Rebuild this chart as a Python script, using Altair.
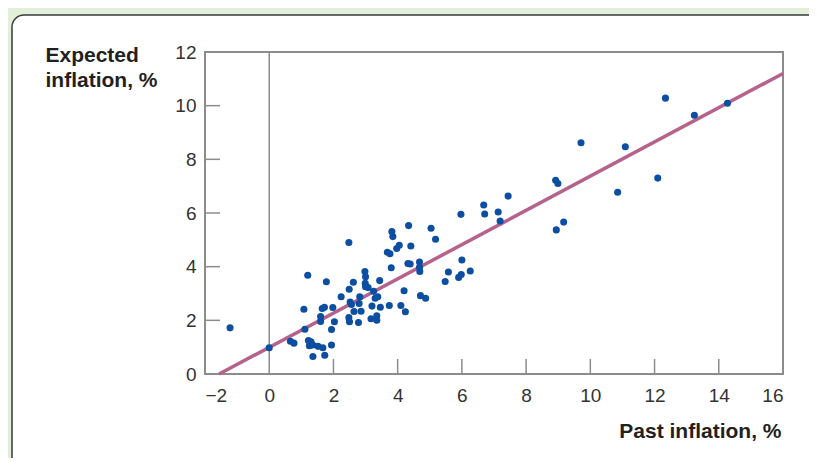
import altair as alt
import pandas as pd

# Scatter data
past = [-1.22, 0.0, 0.66, 0.77, 1.08, 1.11, 1.2, 1.22, 1.3, 1.25, 1.36, 1.36, 1.52, 1.6, 1.6,
        1.65, 1.72, 1.67, 1.73, 1.78, 1.94, 1.94, 1.98, 2.03, 2.24, 2.48, 2.48, 2.5, 2.49, 2.52,
        2.56, 2.62, 2.64, 2.78, 2.82, 2.8, 2.86, 2.98, 3.0, 2.99, 3.0, 3.08, 3.17, 3.2, 3.25,
        3.3, 3.35, 3.35, 3.38, 3.44, 3.46, 3.68, 3.76, 3.74, 3.82, 3.85, 3.8, 3.97, 4.05, 4.1,
        4.2, 4.24, 4.34, 4.32, 4.39, 4.41, 4.68, 4.68, 4.69, 4.71, 4.87, 5.04, 5.18, 5.48, 5.58,
        5.9, 5.98, 6.0, 5.97, 6.26, 6.68, 6.71, 7.13, 7.19, 7.44, 8.92, 8.99, 8.94, 9.17, 9.71,
        10.85, 11.09, 12.1, 12.34, 13.24, 14.27]
expected = [1.72, 0.98, 1.22, 1.15, 2.41, 1.67, 3.68, 1.25, 1.2, 1.05, 0.65, 1.08, 1.03, 2.14, 1.96,
            2.44, 2.49, 0.98, 0.7, 3.44, 1.66, 1.08, 2.48, 1.95, 2.88, 4.9, 2.1, 1.95, 3.16, 2.68,
            2.59, 3.42, 2.33, 1.92, 2.88, 2.63, 2.34, 3.82, 3.62, 3.38, 3.25, 3.22, 2.06, 2.53, 3.08,
            2.82, 2.0, 2.17, 2.88, 3.48, 2.49, 4.54, 4.48, 2.55, 5.31, 5.12, 3.96, 4.68, 4.8, 2.55,
            3.1, 2.32, 5.53, 4.12, 4.1, 4.77, 4.17, 3.98, 3.82, 2.92, 2.82, 5.43, 5.02, 3.45, 3.8,
            3.6, 3.71, 4.25, 5.95, 3.84, 6.3, 5.96, 6.04, 5.7, 6.63, 7.22, 7.1, 5.37, 5.66, 8.62,
            6.77, 8.47, 7.3, 10.28, 9.64, 10.09]

fit_x = [-1.56, 16.0]
fit_y = [0.0, 11.2]

x_tick_values = [-2, 0, 2, 4, 6, 8, 10, 12, 14, 16]
y_tick_values = [0, 2, 4, 6, 8, 10, 12]
x_inner_ticks = [2, 4, 6, 8, 10, 12, 14]
y_inner_ticks = [2, 4, 6, 8, 10]

W, H = 578, 322
FONT = "Liberation Sans"
GRAY = "#8c8c8c"

xs = alt.Scale(domain=[-2, 16], nice=False, zero=False)
ys = alt.Scale(domain=[0, 12], nice=False, zero=False)

x_axis = alt.Axis(values=x_tick_values, ticks=False, domain=False, grid=False, zindex=2,
                  labelFontSize=19, labelFont=FONT, labelColor="#333333", labelPadding=12,
                  title="Past inflation, %", titleFont=FONT, titleFontSize=21, titleFontWeight="bold",
                  titleColor="#231f20", titleAnchor="end", titleAlign="right", titleX=W - 2, titleY=63,
                  titleBaseline="alphabetic")
y_axis = alt.Axis(values=y_tick_values, ticks=False, domain=False, grid=False, zindex=2,
                  labelFontSize=19, labelFont=FONT, labelColor="#333333", labelPadding=9,
                  title=["Expected", "inflation, %"], titleFont=FONT, titleFontSize=21,
                  titleFontWeight="bold", titleColor="#231f20", titleAngle=0, titleAlign="left",
                  titleBaseline="alphabetic", titleX=-160, titleY=9, titleLineHeight=25)

pts = pd.DataFrame({"past": past, "expected": expected})
fit = pd.DataFrame({"past": fit_x, "expected": fit_y})

box = alt.Chart(pd.DataFrame({"k": [0]})).mark_rect(
    fill="white", stroke="#3a3a3a", strokeWidth=1.5, cornerRadius=12, clip=False
).encode(x=alt.value(-193), x2=alt.value(660), y=alt.value(-37), y2=alt.value(460))

frame = alt.Chart(pd.DataFrame({"k": [0]})).mark_rect(
    fill=None, fillOpacity=0, stroke=GRAY, strokeWidth=2
).encode(x=alt.value(0), x2=alt.value(W), y=alt.value(0), y2=alt.value(H))

zero_line = alt.Chart(pd.DataFrame({"past": [0]})).mark_rule(color=GRAY, strokeWidth=1.5).encode(
    x=alt.X("past:Q", scale=xs, axis=x_axis), y=alt.value(0), y2=alt.value(H))

xt = alt.Chart(pd.DataFrame({"past": x_inner_ticks})).mark_rule(color=GRAY, strokeWidth=1.5).encode(
    x=alt.X("past:Q", scale=xs, axis=x_axis), y=alt.value(H), y2=alt.value(H - 15))

yt = alt.Chart(pd.DataFrame({"expected": y_inner_ticks})).mark_rule(color=GRAY, strokeWidth=1.5).encode(
    y=alt.Y("expected:Q", scale=ys, axis=y_axis), x=alt.value(0), x2=alt.value(15))

line = alt.Chart(fit).mark_line(color="#b5638c", strokeWidth=3.5).encode(
    x=alt.X("past:Q", scale=xs, axis=x_axis), y=alt.Y("expected:Q", scale=ys, axis=y_axis))

dots = alt.Chart(pts).mark_circle(color="#0b4ea2", opacity=1, size=50).encode(
    x=alt.X("past:Q", scale=xs, axis=x_axis), y=alt.Y("expected:Q", scale=ys, axis=y_axis))

chart = alt.layer(box, frame, zero_line, xt, yt, line, dots).properties(
    width=W, height=H,
    autosize=alt.AutoSizeParams(type="none"),
    padding={"left": 197, "top": 44, "right": 26, "bottom": 84},
    background="#e2efda",
).configure_view(stroke=None)

chart.save("out.html", embed_options={"renderer": "svg", "actions": False})
